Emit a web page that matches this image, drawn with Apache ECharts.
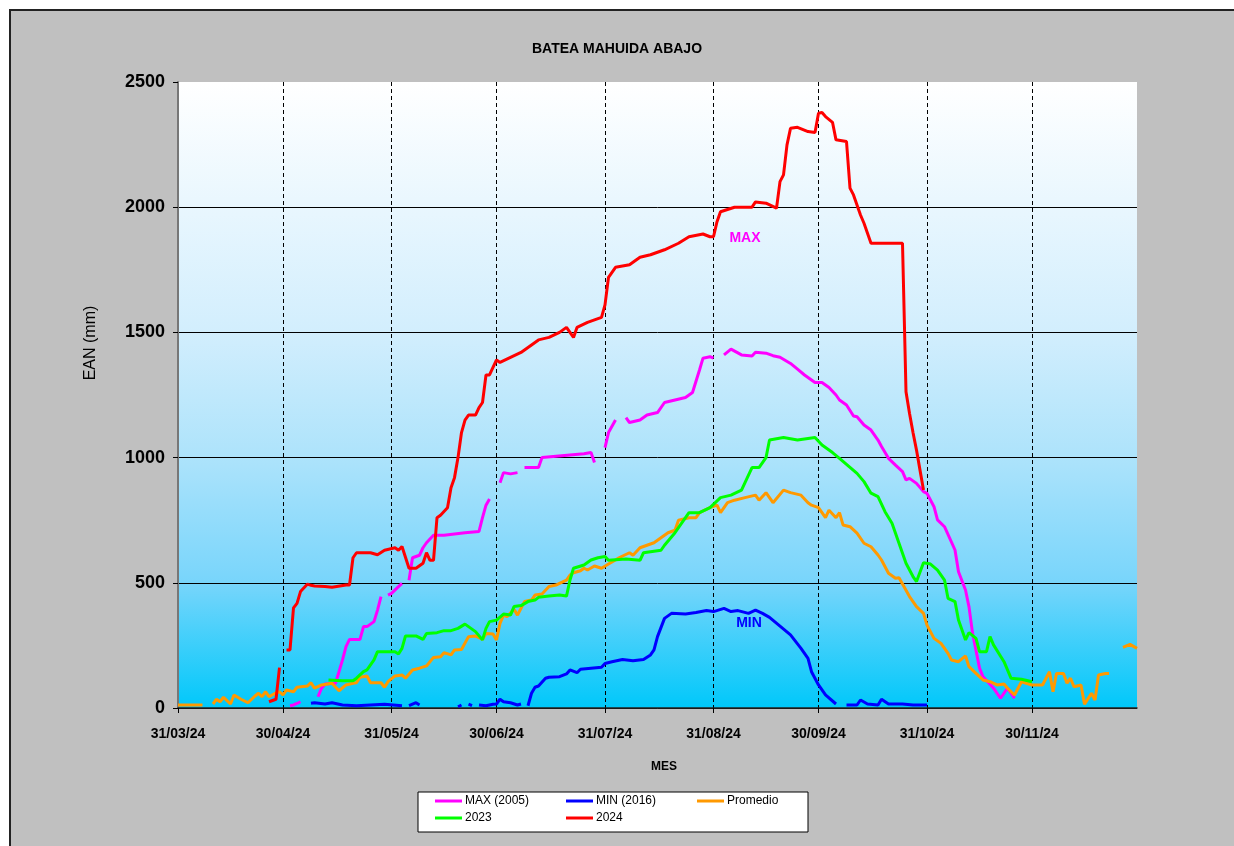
<!DOCTYPE html>
<html>
<head>
<meta charset="utf-8">
<script src="https://cdn.jsdelivr.net/npm/echarts@6/dist/echarts.min.js"></script>
<style>
html,body{margin:0;padding:0;background:#fff;}
#frame{position:absolute;left:9px;top:9px;width:1225px;height:837px;background:#c0c0c0;border-top:2px solid #222;border-left:2px solid #222;box-sizing:border-box;}
#chart{position:absolute;left:0;top:0;width:1234px;height:846px;}
</style>
</head>
<body>
<div id="frame"></div>
<div id="chart"></div>
<script>
// x axis: daily categories from 31/03/24 to 30/12/24; data given as [day offset from 31/03/24, EAN mm]
const startDate = new Date(2024, 2, 31);
const nDays = 275;
const yTicks = [0, 500, 1000, 1500, 2000, 2500];

const max2005 = [[32,9],[33,12],[34,18],[35,25],[36,null],
 [40,45],[41,79],[42,96],[45,99],[46,145],[47,192],[48,245],[49,274],[52,274],[53,325],[54,325],[56,345],[57,391],[58,445],[59,null],
 [60,451],[61,458],[63,485],[64,498],[65,null],
 [66,510],[67,600],[68,605],[69,610],[70,640],[71,660],[73,690],[76,690],[79,695],[82,700],[86,705],[87,760],[88,810],[89,835],[90,null],
 [92,900],[93,940],[95,935],[97,940],[98,null],
 [99,960],[103,960],[104,1000],[108,1005],[112,1010],[116,1015],[118,1020],[119,980],[120,null],
 [122,1040],[123,1100],[125,1150],[126,null],
 [128,1160],[129,1140],[132,1150],[134,1170],[137,1180],[139,1220],[142,1230],[145,1240],[147,1260],[149,1350],[150,1397],[152,1403],[153,1397],[154,null],
 [156,1410],[158,1433],[161,1410],[164,1406],[165,1421],[168,1417],[170,1407],[172,1401],[175,1376],[177,1353],[179,1330],[182,1300],[184,1300],[186,1280],[188,1250],[189,1230],[191,1210],[193,1166],[194,1163],[196,1130],[198,1110],[200,1070],[201,1044],[203,997],[205,970],[207,944],[208,911],[209,917],[211,897],[213,864],[214,857],[216,804],[217,751],[219,724],[222,631],[223,544],[225,471],[226,404],[227,300],[228,230],[229,160],[230,125],[232,95],[233,79],[235,39],[237,79],[239,39]];

const min2016 = [[38,19],[39,21],[42,16],[44,21],[47,12],[51,9],[55,12],[59,15],[64,9],[65,null],
 [66,9],[68,21],[69,12],[70,null],
 [80,5],[81,12],[82,null],
 [83,15],[84,9],[85,null],
 [86,12],[88,9],[90,15],[91,16],[92,35],[93,25],[95,21],[97,12],[98,16],[99,null],
 [100,9],[101,59],[102,83],[103,88],[105,119],[106,123],[109,125],[111,136],[112,152],[114,141],[115,155],[118,159],[121,163],[122,178],[124,185],[127,194],[130,189],[133,194],[135,212],[136,232],[137,285],[139,358],[141,378],[145,375],[148,381],[151,389],[153,385],[156,398],[158,385],[160,389],[163,378],[165,391],[167,378],[169,362],[172,327],[175,292],[178,238],[180,198],[181,145],[183,92],[185,52],[188,16],[189,null],
 [191,12],[194,12],[195,32],[197,16],[200,12],[201,35],[203,16],[207,16],[210,12],[214,12]];

const promedio = [[0,12],[7,12],[8,null],
 [10,16],[11,35],[12,25],[13,43],[15,16],[16,52],[18,35],[20,21],[22,48],[23,59],[24,45],[25,65],[26,45],[28,61],[29,65],[30,52],[31,72],[33,65],[34,83],[37,88],[38,101],[39,79],[41,92],[44,99],[46,69],[48,92],[50,99],[51,101],[52,123],[54,128],[55,101],[58,101],[59,83],[60,105],[62,128],[64,132],[65,119],[67,152],[69,159],[71,168],[73,202],[75,205],[76,221],[78,212],[79,232],[81,234],[83,285],[85,288],[87,274],[88,298],[90,296],[91,272],[92,338],[93,371],[94,365],[96,394],[97,371],[99,425],[101,431],[102,451],[104,455],[106,485],[108,491],[109,498],[111,511],[112,531],[113,540],[115,548],[116,558],[117,551],[119,567],[121,558],[123,575],[125,591],[126,600],[129,620],[130,610],[132,640],[134,650],[136,660],[138,680],[140,700],[142,710],[143,750],[146,760],[148,760],[149,780],[152,800],[154,810],[155,780],[157,820],[159,830],[162,840],[165,850],[166,830],[168,860],[170,820],[173,870],[175,860],[178,850],[180,820],[181,810],[183,800],[185,760],[186,790],[188,760],[189,780],[190,731],[192,724],[194,698],[196,658],[198,644],[200,611],[201,591],[203,538],[205,518],[206,520],[209,445],[211,405],[213,378],[214,331],[216,278],[218,258],[220,218],[221,192],[223,185],[225,208],[226,165],[228,138],[230,112],[232,105],[234,92],[236,96],[237,79],[239,52],[241,105],[244,92],[247,92],[249,145],[250,65],[251,138],[253,138],[254,99],[255,119],[256,85],[258,92],[259,15],[261,59],[262,32],[263,132],[265,138],[266,138],[267,null],
 [270,242],[272,254],[274,238]];

const y2023 = [[43,112],[47,109],[50,109],[51,119],[53,145],[54,152],[56,192],[57,225],[62,225],[63,216],[64,238],[65,288],[68,288],[70,274],[71,298],[74,301],[76,309],[78,309],[80,318],[82,335],[85,305],[87,272],[88,318],[89,345],[91,351],[93,375],[95,371],[96,405],[98,409],[100,425],[102,431],[103,442],[106,447],[109,451],[111,447],[112,511],[113,558],[116,571],[118,591],[120,600],[122,605],[123,590],[128,595],[132,590],[133,620],[138,630],[139,650],[142,700],[144,740],[146,780],[149,780],[152,800],[155,840],[158,850],[161,870],[162,900],[164,960],[166,960],[168,1000],[169,1070],[173,1080],[177,1070],[182,1080],[184,1050],[187,1020],[189,997],[194,937],[196,904],[198,858],[200,844],[202,784],[204,738],[206,658],[208,578],[210,525],[211,505],[213,580],[215,575],[217,551],[219,511],[220,438],[222,425],[223,351],[225,272],[226,301],[228,278],[229,225],[231,225],[232,285],[233,252],[236,185],[238,119],[241,115],[244,105]];

const y2024 = [[26,25],[27,30],[28,35],[29,161],[30,null],
 [31,232],[32,232],[33,400],[34,418],[35,465],[37,495],[38,490],[39,487],[42,485],[44,482],[48,491],[49,491],[50,600],[51,620],[55,620],[57,612],[59,630],[62,640],[63,630],[64,645],[66,558],[68,558],[70,578],[71,620],[72,590],[73,590],[74,760],[75,770],[77,800],[78,880],[79,920],[80,1000],[81,1100],[82,1150],[83,1170],[85,1170],[86,1200],[87,1220],[88,1330],[89,1330],[91,1390],[92,1380],[95,1400],[98,1420],[101,1450],[103,1470],[106,1480],[109,1500],[111,1520],[113,1480],[114,1520],[117,1540],[119,1550],[121,1560],[122,1610],[123,1720],[125,1760],[129,1770],[132,1800],[135,1810],[139,1830],[143,1856],[146,1882],[150,1893],[152,1882],[153,1882],[154,1942],[155,1982],[159,2000],[164,2000],[165,2021],[168,2016],[171,1996],[172,2102],[173,2129],[174,2249],[175,2315],[177,2319],[180,2302],[182,2298],[183,2375],[184,2378],[185,2362],[187,2339],[188,2269],[191,2262],[192,2076],[193,2049],[195,1969],[196,1936],[198,1856],[207,1856],[208,1263],[209,1177],[210,1100],[211,1030],[212,950],[213,871]];

const seriesDefs = [
  {name: 'MAX (2005)', color: '#ff00ff', data: max2005},
  {name: 'MIN (2016)', color: '#0000ff', data: min2016},
  {name: 'Promedio', color: '#ff9900', data: promedio},
  {name: '2023', color: '#00ff00', data: y2023},
  {name: '2024', color: '#ff0000', data: y2024}
];

function pad(n){ return (n < 10 ? '0' : '') + n; }
const categories = [];
const isMonthEnd = [];
for (let i = 0; i < nDays; i++) {
  const d = new Date(startDate.getFullYear(), startDate.getMonth(), startDate.getDate() + i);
  const nx = new Date(d.getFullYear(), d.getMonth(), d.getDate() + 1);
  categories.push(pad(d.getDate()) + '/' + pad(d.getMonth() + 1) + '/' + String(d.getFullYear()).slice(2));
  isMonthEnd.push(nx.getDate() === 1);
}
const monthEnd = (idx) => isMonthEnd[idx];

const chart = echarts.init(document.getElementById('chart'), null, {renderer: 'canvas'});
const FONT = '"Liberation Sans", Arial, sans-serif';

const legendPos = [
  {left: 435, top: 795}, {left: 566, top: 795}, {left: 697, top: 795},
  {left: 435, top: 812}, {left: 566, top: 812}
];

chart.setOption({
  backgroundColor: 'transparent',
  animation: false,
  title: {
    text: 'BATEA MAHUIDA ABAJO', left: 'center', top: 37,
    textStyle: {fontFamily: FONT, fontSize: 14, fontWeight: 'bold', color: '#000'}
  },
  grid: {
    left: 178, right: 97, top: 82, bottom: 138, show: true, borderWidth: 0,
    backgroundColor: {type: 'linear', x: 0, y: 0, x2: 0, y2: 1, colorStops: [
      {offset: 0, color: '#ffffff'},
      {offset: 0.4, color: '#d2eefd'},
      {offset: 0.6, color: '#ade3fb'},
      {offset: 0.8, color: '#78d5fb'},
      {offset: 1, color: '#00c8fa'}
    ]}
  },
  legend: seriesDefs.map((s, i) => ({
    data: [{name: s.name, icon: 'rect'}], left: legendPos[i].left, top: legendPos[i].top, padding: 0,
    itemWidth: 27, itemHeight: 3, z: 10,
    textStyle: {fontFamily: FONT, fontSize: 12, color: '#000', padding: [0, 0, 0, -2]}
  })),
  xAxis: {
    type: 'category', data: categories, boundaryGap: false,
    axisLine: {lineStyle: {color: '#222', width: 1.5}},
    axisTick: {show: true, length: 5, interval: monthEnd, lineStyle: {color: '#000'}},
    axisLabel: {interval: monthEnd, margin: 19, fontFamily: FONT, fontSize: 14, fontWeight: 'bold', color: '#000'},
    splitLine: {show: true, interval: monthEnd, lineStyle: {color: '#000', type: [4, 3], width: 1}}
  },
  yAxis: {
    type: 'value', min: yTicks[0], max: yTicks[yTicks.length - 1], interval: 500,
    axisLine: {show: true, lineStyle: {color: '#777', width: 2}},
    axisTick: {show: true, length: 5, lineStyle: {color: '#000'}},
    axisLabel: {margin: 13, fontFamily: FONT, fontSize: 18, fontWeight: 'bold', color: '#000', formatter: (v) => String(v)},
    splitLine: {show: true, lineStyle: {color: ['#000', '#000', '#000', '#000', '#000', 'rgba(0,0,0,0)'], width: 1}}
  },
  graphic: [
    {type: 'rect', shape: {x: 418, y: 792, width: 390, height: 40}, style: {fill: '#fff', stroke: '#000', lineWidth: 1}, z: 1},
    {type: 'text', x: 91, y: 343, rotation: Math.PI / 2, style: {text: 'EAN (mm)', font: '16px ' + FONT, fill: '#000', textAlign: 'center', textVerticalAlign: 'middle'}},
    {type: 'text', x: 664, y: 767, style: {text: 'MES', font: 'bold 12px ' + FONT, fill: '#000', textAlign: 'center', textVerticalAlign: 'middle'}},
    {type: 'text', x: 745, y: 238, style: {text: 'MAX', font: 'bold 14px ' + FONT, fill: '#ff00ff', textAlign: 'center', textVerticalAlign: 'middle'}, z: 50},
    {type: 'text', x: 749, y: 623, style: {text: 'MIN', font: 'bold 14px ' + FONT, fill: '#0000ff', textAlign: 'center', textVerticalAlign: 'middle'}, z: 50}
  ],
  series: seriesDefs.map(s => ({
    name: s.name, type: 'line', data: s.data, showSymbol: false, symbol: 'none',
    connectNulls: false, color: s.color,
    lineStyle: {color: s.color, width: 3}
  }))
});
</script>
</body>
</html>
